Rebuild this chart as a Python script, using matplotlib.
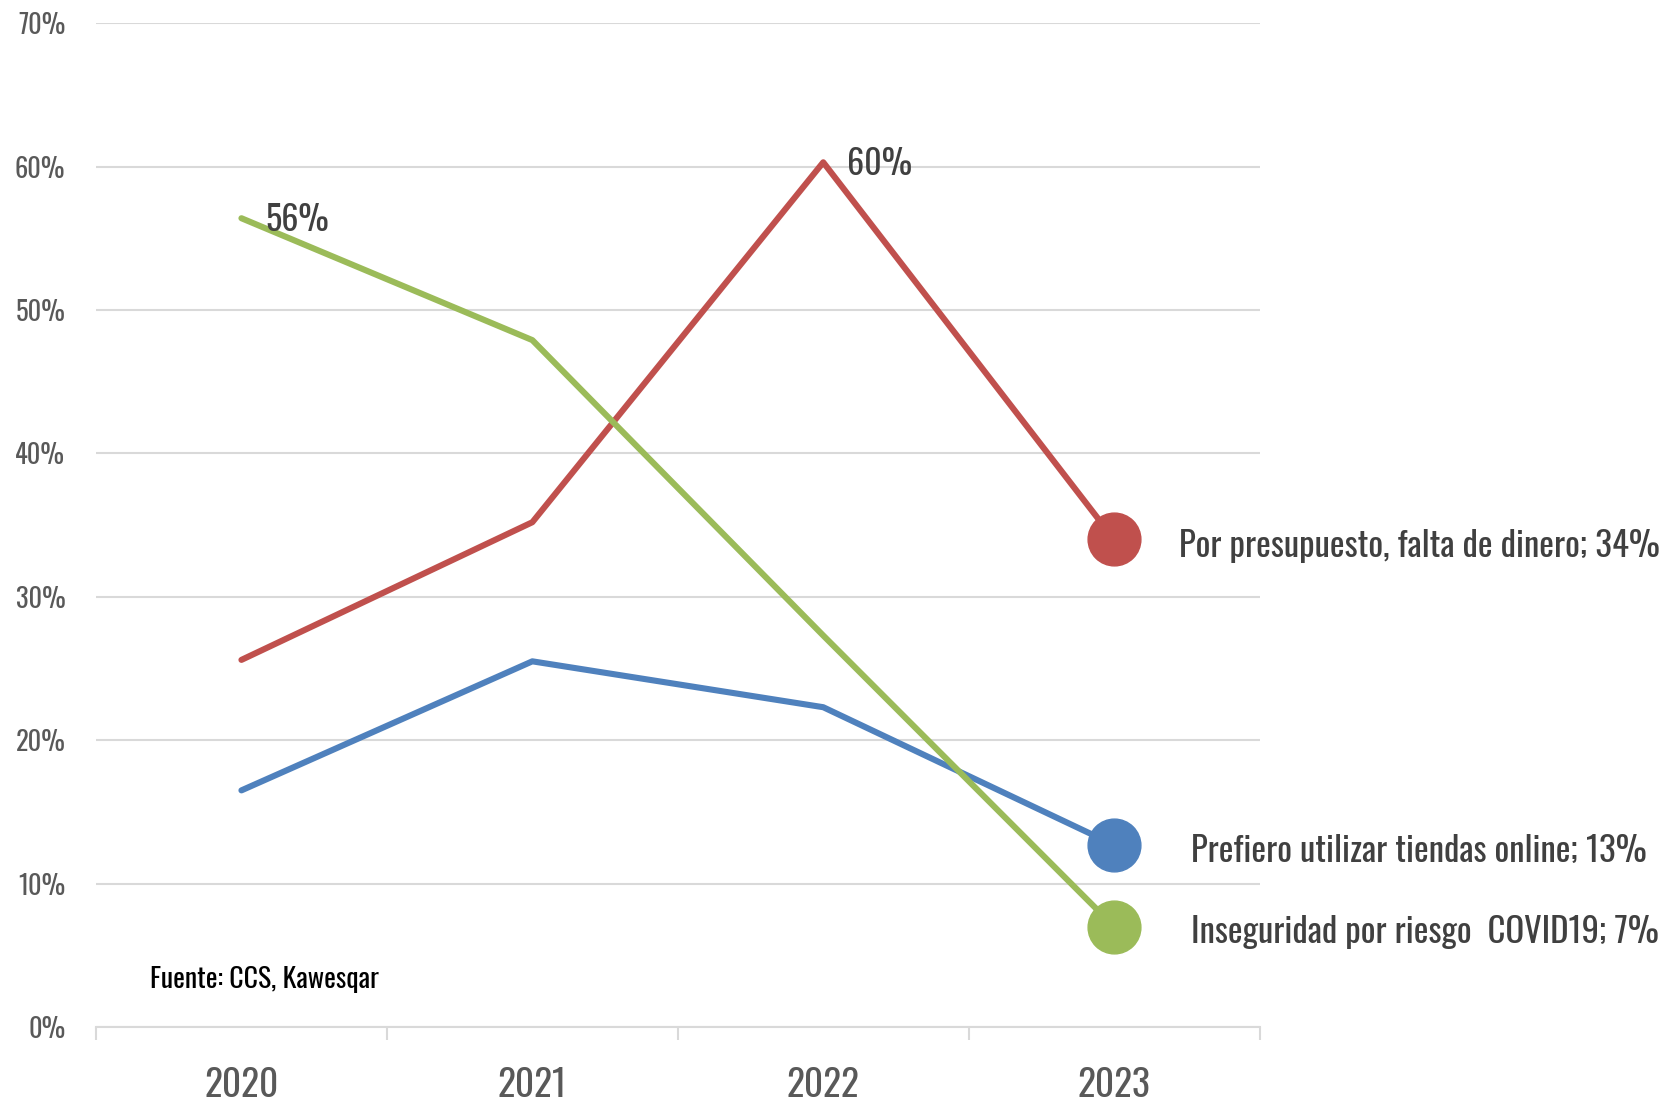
import matplotlib.pyplot as plt
from matplotlib.ticker import FixedLocator

years = ["2020", "2021", "2022", "2023"]
presupuesto = [25.6, 35.2, 60.3, 34.0]
online = [16.5, 25.5, 22.3, 12.7]
covid = [56.4, 47.9, 27.3, 7.0]

names = ["Por presupuesto, falta de dinero; 34%",
         "Prefiero utilizar tiendas online; 13%",
         "Inseguridad por riesgo  COVID19; 7%"]
colors = ["#C0504D", "#4F81BD", "#9BBB59"]
yticks = [0, 10, 20, 30, 40, 50, 60, 70]

plt.rcParams["font.family"] = ["Oswald", "DejaVu Sans"]

fig = plt.figure(figsize=(16.75, 11.05), dpi=100)
ax = fig.add_axes([0.0573, 0.0706, 0.6947, 0.9084])

x = [i + 0.5 for i in range(len(years))]
series = [presupuesto, online, covid]
for vals, col in zip(series, colors):
    ax.plot(x, vals, color=col, lw=4.4, solid_capstyle="round", zorder=3)
    ax.plot(x[-1], vals[-1], "o", color=col, ms=38, zorder=4)

# end labels
offs = [(47, -5), (55, -4), (55, -4)]
for vals, name, off in zip(series, names, offs):
    ax.annotate(name, (x[-1], vals[-1]), xytext=off, textcoords="offset points",
                va="center", ha="left", fontsize=25, color="#404040",
                annotation_clip=False)

# peak labels
ax.annotate("56%", (x[0], covid[0]), xytext=(17, -1), textcoords="offset points",
            va="center", ha="left", fontsize=24.5, color="#404040")
ax.annotate("60%", (x[2], presupuesto[2]), xytext=(17, -1), textcoords="offset points",
            va="center", ha="left", fontsize=24.5, color="#404040")

ax.text(0.046, 0.047, "Fuente: CCS, Kawesqar", transform=ax.transAxes,
        fontsize=20, color="#000000", va="center", ha="left")

ax.set_xlim(0, 4)
ax.set_ylim(0, 70)
ax.set_yticks(yticks)
ax.set_yticklabels([f"{v}%" for v in yticks])
ax.xaxis.set_major_locator(FixedLocator(x))
ax.set_xticklabels(years)
ax.xaxis.set_minor_locator(FixedLocator([0, 1, 2, 3, 4]))

ax.grid(axis="y", color="#D9D9D9", lw=1.5, zorder=0)
for s in ["top", "right", "left"]:
    ax.spines[s].set_visible(False)
ax.spines["bottom"].set_color("#D9D9D9")
ax.spines["bottom"].set_linewidth(1.5)

ax.tick_params(axis="y", length=0, pad=22, labelsize=19, labelcolor="#595959")
ax.tick_params(axis="x", which="major", length=0, pad=29, labelsize=27,
               labelcolor="#595959")
ax.tick_params(axis="x", which="minor", length=9, width=1.5, color="#D9D9D9")

fig.savefig("out.png", dpi=100)
